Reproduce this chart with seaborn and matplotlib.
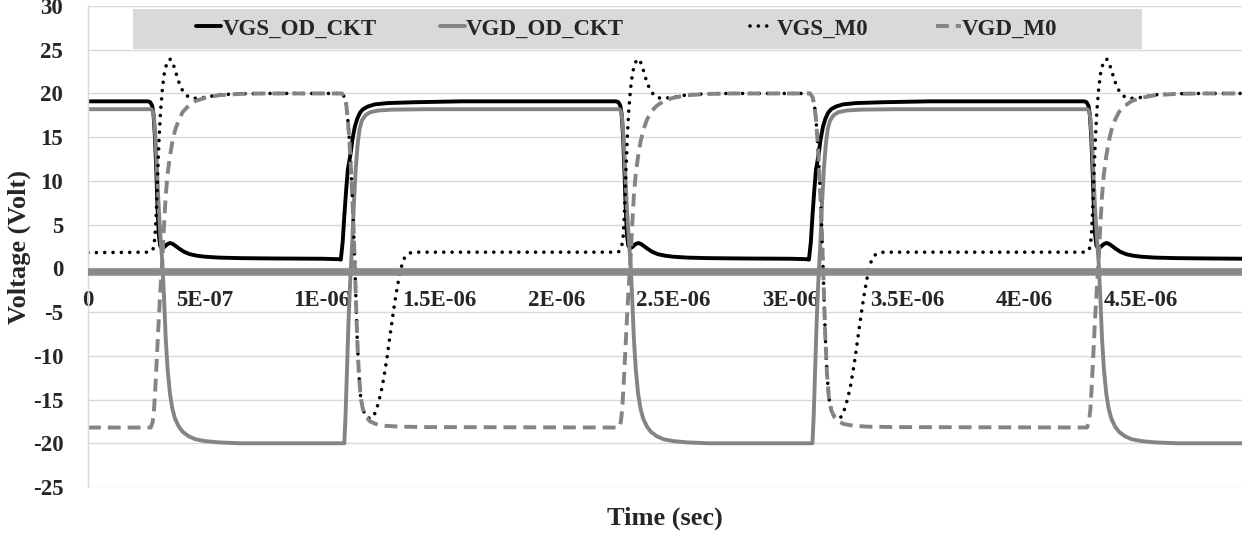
import numpy as np
import pandas as pd
import matplotlib
matplotlib.use("Agg")
import matplotlib.pyplot as plt
from matplotlib.patches import Rectangle
import seaborn as sns

# ---------------- data (time in microseconds, voltage in volts) ----------------
t_vgs_od = [0.000,
            0.255, 0.266, 0.274, 0.280, 0.286, 0.292, 0.297, 0.302, 0.308, 0.316, 0.326, 0.338, 0.350,
            0.362, 0.375, 0.390, 0.410, 0.435, 0.465, 0.500, 0.560, 0.650, 0.800, 1.000, 1.070, 1.080,
            1.088, 1.095, 1.103, 1.110, 1.116, 1.122, 1.130, 1.140, 1.150, 1.162, 1.175, 1.195, 1.225,
            1.280, 1.400, 1.600,
            2.255, 2.266, 2.274, 2.280, 2.286, 2.292, 2.297, 2.302, 2.308, 2.316, 2.326, 2.338, 2.350,
            2.362, 2.375, 2.390, 2.410, 2.435, 2.465, 2.500, 2.560, 2.650, 2.800, 3.000, 3.070, 3.080,
            3.088, 3.095, 3.103, 3.110, 3.116, 3.122, 3.130, 3.140, 3.150, 3.162, 3.175, 3.195, 3.225,
            3.280, 3.400, 3.600,
            4.255, 4.266, 4.274, 4.280, 4.286, 4.292, 4.297, 4.302, 4.308, 4.316, 4.326, 4.338, 4.350,
            4.362, 4.375, 4.390, 4.410, 4.435, 4.465, 4.500, 4.560, 4.650, 4.800, 4.950]
v_vgs_od = [19.1,
            19.1, 19.0, 18.6, 17.6, 15.0, 11.0, 7.0, 4.0, 2.6, 2.3, 2.45, 2.75, 2.9,
            2.8, 2.55, 2.25, 1.9, 1.62, 1.45, 1.33, 1.23, 1.17, 1.13, 1.1, 1.05, 1.0,
            3.0, 6.0, 9.0, 11.3, 12.2, 13.2, 14.8, 16.2, 17.1, 17.8, 18.2, 18.5, 18.75,
            18.9, 19.0, 19.1,
            19.1, 19.0, 18.6, 17.6, 15.0, 11.0, 7.0, 4.0, 2.6, 2.3, 2.45, 2.75, 2.9,
            2.8, 2.55, 2.25, 1.9, 1.62, 1.45, 1.33, 1.23, 1.17, 1.13, 1.1, 1.05, 1.0,
            3.0, 6.0, 9.0, 11.3, 12.2, 13.2, 14.8, 16.2, 17.1, 17.8, 18.2, 18.5, 18.75,
            18.9, 19.0, 19.1,
            19.1, 19.0, 18.6, 17.6, 15.0, 11.0, 7.0, 4.0, 2.6, 2.3, 2.45, 2.75, 2.9,
            2.8, 2.55, 2.25, 1.9, 1.62, 1.45, 1.33, 1.23, 1.17, 1.13, 1.1]

t_vgd_od = [0.000,
            0.270, 0.276, 0.282, 0.288, 0.295, 0.302, 0.310, 0.318, 0.325, 0.332, 0.340, 0.350, 0.360,
            0.372, 0.388, 0.405, 0.430, 0.460, 0.500, 0.560, 0.650,
            1.095, 1.100, 1.106, 1.113, 1.120, 1.128, 1.136, 1.144, 1.152, 1.160, 1.170, 1.185, 1.205,
            1.240, 1.300, 1.450,
            2.270, 2.276, 2.282, 2.288, 2.295, 2.302, 2.310, 2.318, 2.325, 2.332, 2.340, 2.350, 2.360,
            2.372, 2.388, 2.405, 2.430, 2.460, 2.500, 2.560, 2.650,
            3.095, 3.100, 3.106, 3.113, 3.120, 3.128, 3.136, 3.144, 3.152, 3.160, 3.170, 3.185, 3.205,
            3.240, 3.300, 3.450,
            4.270, 4.276, 4.282, 4.288, 4.295, 4.302, 4.310, 4.318, 4.325, 4.332, 4.340, 4.350, 4.360,
            4.372, 4.388, 4.405, 4.430, 4.460, 4.500, 4.560, 4.650, 4.950]
v_vgd_od = [18.2,
            18.2, 18.0, 17.2, 15.0, 11.0, 7.0, 3.5, 0.5, -3.5, -8.0, -11.5, -14.3, -16.0,
            -17.2, -18.1, -18.7, -19.2, -19.55, -19.75, -19.9, -20.0,
            -20.0, -17.0, -12.0, -6.0, -1.5, 2.5, 7.5, 11.5, 14.2, 15.9, 16.9, 17.5, 17.85,
            18.05, 18.15, 18.2,
            18.2, 18.0, 17.2, 15.0, 11.0, 7.0, 3.5, 0.5, -3.5, -8.0, -11.5, -14.3, -16.0,
            -17.2, -18.1, -18.7, -19.2, -19.55, -19.75, -19.9, -20.0,
            -20.0, -17.0, -12.0, -6.0, -1.5, 2.5, 7.5, 11.5, 14.2, 15.9, 16.9, 17.5, 17.85,
            18.05, 18.15, 18.2,
            18.2, 18.0, 17.2, 15.0, 11.0, 7.0, 3.5, 0.5, -3.5, -8.0, -11.5, -14.3, -16.0,
            -17.2, -18.1, -18.7, -19.2, -19.55, -19.75, -19.9, -20.0, -20.0]

t_vgs_m0 = [0.000,
            0.265, 0.278, 0.286, 0.292, 0.298, 0.304, 0.310, 0.318, 0.326, 0.336, 0.346, 0.354, 0.362,
            0.372, 0.384, 0.398, 0.415, 0.435, 0.460, 0.500, 0.560, 0.650, 0.750,
            1.085, 1.095, 1.103, 1.110, 1.117, 1.124, 1.131, 1.138, 1.144, 1.150, 1.157, 1.165, 1.175,
            1.188, 1.202, 1.214, 1.225, 1.236, 1.247, 1.258, 1.268, 1.278, 1.287, 1.296, 1.305, 1.314,
            1.323, 1.332, 1.342, 1.352, 1.365, 1.380, 1.400,
            2.265, 2.278, 2.286, 2.292, 2.298, 2.304, 2.310, 2.318, 2.326, 2.336, 2.346, 2.354, 2.362,
            2.372, 2.384, 2.398, 2.415, 2.435, 2.460, 2.500, 2.560, 2.650, 2.750,
            3.085, 3.095, 3.103, 3.110, 3.117, 3.124, 3.131, 3.138, 3.144, 3.150, 3.157, 3.165, 3.175,
            3.188, 3.202, 3.214, 3.225, 3.236, 3.247, 3.258, 3.268, 3.278, 3.287, 3.296, 3.305, 3.314,
            3.323, 3.332, 3.342, 3.352, 3.365, 3.380, 3.400,
            4.265, 4.278, 4.286, 4.292, 4.298, 4.304, 4.310, 4.318, 4.326, 4.336, 4.346, 4.354, 4.362,
            4.372, 4.384, 4.398, 4.415, 4.435, 4.460, 4.500, 4.560, 4.650, 4.750, 4.950]
v_vgs_m0 = [1.8,
            1.85, 2.2, 3.5, 6.5, 11.0, 15.0, 18.0, 20.6, 22.3, 23.4, 23.9, 23.9, 23.5,
            22.7, 21.6, 20.6, 19.9, 19.5, 19.45, 19.55, 19.85, 19.97, 20.0,
            20.0, 19.6, 18.8, 17.0, 14.5, 11.0, 7.0, 2.0, -3.0, -8.0, -12.0, -14.8, -16.2,
            -16.9, -17.15, -17.1, -16.6, -15.8, -14.7, -13.4, -11.8, -10.1, -8.3, -6.6, -4.9, -3.3,
            -1.9, -0.6, 0.5, 1.2, 1.6, 1.8, 1.85,
            1.85, 2.2, 3.5, 6.5, 11.0, 15.0, 18.0, 20.6, 22.3, 23.4, 23.9, 23.9, 23.5,
            22.7, 21.6, 20.6, 19.9, 19.5, 19.45, 19.55, 19.85, 19.97, 20.0,
            20.0, 19.6, 18.8, 17.0, 14.5, 11.0, 7.0, 2.0, -3.0, -8.0, -12.0, -14.8, -16.2,
            -16.9, -17.15, -17.1, -16.6, -15.8, -14.7, -13.4, -11.8, -10.1, -8.3, -6.6, -4.9, -3.3,
            -1.9, -0.6, 0.5, 1.2, 1.6, 1.8, 1.85,
            1.85, 2.2, 3.5, 6.5, 11.0, 15.0, 18.0, 20.6, 22.3, 23.4, 23.9, 23.9, 23.5,
            22.7, 21.6, 20.6, 19.9, 19.5, 19.45, 19.55, 19.85, 19.97, 20.0, 20.0]

t_vgd_m0 = [0.000,
            0.268, 0.276, 0.282, 0.288, 0.294, 0.300, 0.306, 0.312, 0.318, 0.325, 0.332, 0.340, 0.350,
            0.360, 0.372, 0.388, 0.405, 0.430, 0.460, 0.500, 0.560, 0.650, 0.760,
            1.085, 1.095, 1.103, 1.110, 1.117, 1.124, 1.131, 1.138, 1.144, 1.150, 1.157, 1.165, 1.175,
            1.188, 1.205, 1.230, 1.270, 1.330, 1.450,
            2.268, 2.276, 2.282, 2.288, 2.294, 2.300, 2.306, 2.312, 2.318, 2.325, 2.332, 2.340, 2.350,
            2.360, 2.372, 2.388, 2.405, 2.430, 2.460, 2.500, 2.560, 2.650, 2.760,
            3.085, 3.095, 3.103, 3.110, 3.117, 3.124, 3.131, 3.138, 3.144, 3.150, 3.157, 3.165, 3.175,
            3.188, 3.205, 3.230, 3.270, 3.330, 3.450,
            4.268, 4.276, 4.282, 4.288, 4.294, 4.300, 4.306, 4.312, 4.318, 4.325, 4.332, 4.340, 4.350,
            4.360, 4.372, 4.388, 4.405, 4.430, 4.460, 4.500, 4.560, 4.650, 4.760, 4.950]
v_vgd_m0 = [-18.2,
            -18.2, -17.6, -16.2, -13.5, -10.3, -7.0, -4.0, -1.3, 1.2, 5.0, 8.3, 10.8, 12.8,
            14.4, 15.8, 17.0, 17.9, 18.6, 19.15, 19.5, 19.8, 19.95, 20.0,
            20.0, 19.6, 18.8, 17.0, 14.5, 11.0, 7.0, 2.0, -3.0, -8.0, -12.0, -14.8, -16.2,
            -17.0, -17.5, -17.8, -18.0, -18.1, -18.15,
            -18.2, -17.6, -16.2, -13.5, -10.3, -7.0, -4.0, -1.3, 1.2, 5.0, 8.3, 10.8, 12.8,
            14.4, 15.8, 17.0, 17.9, 18.6, 19.15, 19.5, 19.8, 19.95, 20.0,
            20.0, 19.6, 18.8, 17.0, 14.5, 11.0, 7.0, 2.0, -3.0, -8.0, -12.0, -14.8, -16.2,
            -17.0, -17.5, -17.8, -18.0, -18.1, -18.15,
            -18.2, -17.6, -16.2, -13.5, -10.3, -7.0, -4.0, -1.3, 1.2, 5.0, 8.3, 10.8, 12.8,
            14.4, 15.8, 17.0, 17.9, 18.6, 19.15, 19.5, 19.8, 19.95, 20.0, 20.0]

series_names = ["VGS_OD_CKT", "VGD_OD_CKT", "VGS_M0", "VGD_M0"]
x_ticks = [0, 5e-7, 1e-6, 1.5e-6, 2e-6, 2.5e-6, 3e-6, 3.5e-6, 4e-6, 4.5e-6]
x_tick_labels = ["0", "5E-07", "1E-06", "1.5E-06", "2E-06", "2.5E-06", "3E-06", "3.5E-06", "4E-06", "4.5E-06"]
y_ticks = [-25, -20, -15, -10, -5, 0, 5, 10, 15, 20, 25, 30]
y_tick_labels = ["-25", "-20", "-15", "-10", "-5", "0", "5", "10", "15", "20", "25", "30"]

# ---------------- style ----------------
sns.set_style("white")
plt.rcParams["font.family"] = ["Liberation Serif", "DejaVu Serif"]
plt.rcParams["font.weight"] = "bold"

W, H = 1247, 536
fig = plt.figure(figsize=(W / 100, H / 100), dpi=100)
ax = fig.add_axes([88 / W, 1 - 487 / H, 1154 / W, 481 / H])

GREY = "#848484"
styles = [
    dict(color="black", linewidth=2.8, linestyle="-"),
    dict(color=GREY, linewidth=2.8, linestyle="-"),
    dict(color="black", linewidth=2.6, linestyle=(0, (0.01, 2.3)), dash_capstyle="round"),
    dict(color=GREY, linewidth=2.8, linestyle=(0, (3.3, 1.8))),
]
data = [(t_vgs_od, v_vgs_od), (t_vgd_od, v_vgd_od), (t_vgs_m0, v_vgs_m0), (t_vgd_m0, v_vgd_m0)]
for name, (tt, vv), st in zip(series_names, data, styles):
    df = pd.DataFrame({"t": np.asarray(tt) * 1e-6, "v": vv})
    sns.lineplot(data=df, x="t", y="v", ax=ax, label=name, estimator=None, sort=False,
                 legend=False, **st)

ax.set_xlim(0, 4.93e-6)
ax.set_ylim(-25, 30)
ax.set_xticks(x_ticks)
ax.set_xticklabels(x_tick_labels)
ax.set_yticks(y_ticks)
ax.set_yticklabels(y_tick_labels)

ax.grid(axis="y", color="#d9d9d9", linewidth=1.0)
ax.grid(axis="x", visible=False)
ax.set_axisbelow(True)

for s in ["top", "right"]:
    ax.spines[s].set_visible(False)
ax.spines["left"].set_color("#d9d9d9")
ax.spines["left"].set_linewidth(1.0)
ax.spines["bottom"].set_position(("data", -0.4))
ax.spines["bottom"].set_color("#8a8a8a")
ax.spines["bottom"].set_linewidth(5.4)
ax.spines["bottom"].set_capstyle("butt")

ax.tick_params(axis="x", length=0, pad=13, labelsize=16.5)
ax.tick_params(axis="y", length=5.8, width=1, color="#d9d9d9", pad=12, labelsize=16.5)
for lab in ax.get_xticklabels() + ax.get_yticklabels():
    lab.set_fontweight("bold")

ax.set_xlabel("Time (sec)", fontsize=19, fontweight="bold")
ax.set_ylabel("Voltage (Volt)", fontsize=19, fontweight="bold")
ax.xaxis.set_label_coords(0.5, -0.040)
ax.yaxis.set_label_coords(-0.049, 0.5)

# legend background band
rect = Rectangle((133 / W, 1 - 49 / H), (1142 - 133) / W, 40 / H, transform=fig.transFigure,
                 facecolor="#d9d9d9", edgecolor="none", zorder=4, clip_on=False)
ax.add_patch(rect)

handles, labels = ax.get_legend_handles_labels()
prop = {"family": "Liberation Serif", "weight": "bold", "size": 16.5}
common = dict(frameon=False, borderpad=0, borderaxespad=0, handlelength=1.1, handletextpad=0.05,
              prop=prop, loc="center left", bbox_transform=fig.transFigure, ncol=2)
leg1 = ax.legend(handles[:2], labels[:2], bbox_to_anchor=(196 / W, 1 - 29 / H),
                 columnspacing=2.75, **common)
ax.add_artist(leg1)
leg2 = ax.legend(handles[2:], labels[2:], bbox_to_anchor=(750 / W, 1 - 29 / H),
                 columnspacing=2.95, **common)
for lg in (leg1, leg2):
    lg.set_zorder(5)

fig.savefig("out.png", dpi=100)
